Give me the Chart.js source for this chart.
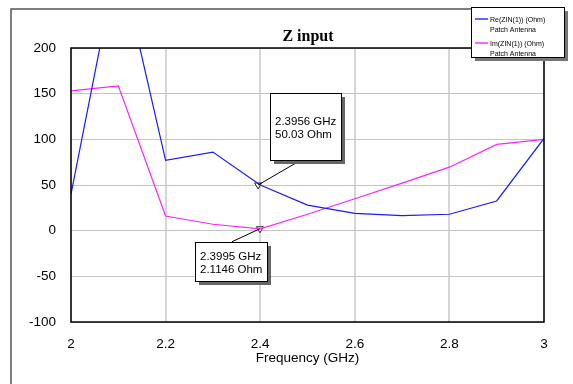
<!DOCTYPE html>
<html>
<head>
<meta charset="utf-8">
<script src="https://cdn.jsdelivr.net/npm/chart.js@4.4.0/dist/chart.umd.min.js"></script>
<style>
  html, body { margin: 0; padding: 0; background: #fff; }
  #wrap { width: 573px; height: 384px; }
</style>
</head>
<body>
<div id="wrap"><canvas id="zChart" width="573" height="384"></canvas></div>
<script>
// frequency points (GHz)
const freqs = [2.0, 2.1, 2.2, 2.3, 2.4, 2.5, 2.6, 2.7, 2.8, 2.9, 3.0];
// Re(ZIN(1)) and Im(ZIN(1)) in Ohm
const reZin = [40, 303, 77, 86, 50, 28, 19, 16.5, 18, 32.5, 101];
const imZin = [153, 158.5, 16, 7, 2, 18, 35, 52, 69.5, 94.5, 100];
// marker readouts
const markerFreq = [2.3956, 2.3995];
const markerVal = [50.03, 2.1146];
const xTicks = [2, 2.2, 2.4, 2.6, 2.8, 3];
const yTicks = [-100, -50, 0, 50, 100, 150, 200];

const toXY = (xs, ys) => xs.map((x, i) => ({x: x, y: ys[i]}));

// frame, title, legend, marker boxes
const decor = {
  id: 'decor',
  afterDraw(chart) {
    const ctx = chart.ctx;
    const a = chart.chartArea;
    const xs = chart.scales.x, ys = chart.scales.y;
    ctx.save();

    // outer frame
    ctx.strokeStyle = '#555';
    ctx.lineWidth = 1.5;
    ctx.beginPath();
    ctx.moveTo(11, 384);
    ctx.lineTo(11, 9);
    ctx.lineTo(471, 9);
    ctx.stroke();

    // plot border
    ctx.strokeStyle = '#000';
    ctx.lineWidth = 1.5;
    ctx.strokeRect(a.left, a.top, a.right - a.left, a.bottom - a.top);

    // title
    ctx.fillStyle = '#000';
    ctx.font = 'bold 16px "Liberation Serif", "Times New Roman", serif';
    ctx.textAlign = 'center';
    ctx.textBaseline = 'alphabetic';
    ctx.fillText('Z input', 308, 41);

    // legend box
    const lx = 471, ly = 7, lw = 93, lh = 50;
    ctx.fillStyle = '#777';
    ctx.fillRect(lx + 4, ly + 4, lw, lh);
    ctx.fillStyle = '#fff';
    ctx.fillRect(lx, ly, lw, lh);
    ctx.strokeStyle = '#000';
    ctx.lineWidth = 1;
    ctx.strokeRect(lx + 0.5, ly + 0.5, lw, lh);
    const entries = [
      {c: '#0000ff', t: 'Re(ZIN(1)) (Ohm)', y: 19},
      {c: '#ff00ff', t: 'Im(ZIN(1)) (Ohm)', y: 43}
    ];
    ctx.font = '7px "Liberation Sans", Arial, sans-serif';
    ctx.textAlign = 'left';
    entries.forEach(e => {
      ctx.strokeStyle = e.c;
      ctx.lineWidth = 1.2;
      ctx.beginPath();
      ctx.moveTo(475, e.y);
      ctx.lineTo(488, e.y);
      ctx.stroke();
      ctx.fillStyle = '#000';
      ctx.fillText(e.t, 490, e.y + 3);
      ctx.fillText('Patch Antenna', 490, e.y + 13);
    });

    // marker readout boxes
    const boxes = [
      {dx: 12, dy: -92, w: 71, h: 67, lead: [43, -25], text: [markerFreq[0].toFixed(4) + ' GHz', markerVal[0].toFixed(2) + ' Ohm']},
      {dx: -65, dy: 13, w: 72, h: 39, lead: [-28, 13], text: [markerFreq[1].toFixed(4) + ' GHz', markerVal[1].toFixed(4) + ' Ohm']}
    ];
    boxes.forEach((b, i) => {
      const px = xs.getPixelForValue(markerFreq[i]);
      const py = ys.getPixelForValue(markerVal[i]);
      const bx = Math.round(px + b.dx), by = Math.round(py + b.dy);
      ctx.strokeStyle = '#000';
      ctx.lineWidth = 1;
      ctx.beginPath();
      ctx.moveTo(px + b.lead[0], py + b.lead[1]);
      ctx.lineTo(px, py);
      ctx.stroke();
      ctx.fillStyle = '#666';
      ctx.fillRect(bx + 4, by + 4, b.w, b.h);
      ctx.fillStyle = '#fff';
      ctx.fillRect(bx, by, b.w, b.h);
      ctx.strokeStyle = '#000';
      ctx.strokeRect(bx + 0.5, by + 0.5, b.w, b.h);
      ctx.fillStyle = '#000';
      ctx.font = '11.5px "Liberation Sans", Arial, sans-serif';
      ctx.textAlign = 'left';
      const cy = by + b.h / 2;
      ctx.fillText(b.text[0], bx + 5, cy - 2);
      ctx.fillText(b.text[1], bx + 5, cy + 11);
    });

    ctx.restore();
  }
};

const tickFont = {family: '"Liberation Sans", Arial, sans-serif', size: 13.5};

new Chart(document.getElementById('zChart'), {
  type: 'line',
  data: {
    datasets: [
      {
        label: 'Re(ZIN(1)) (Ohm)',
        data: toXY(freqs, reZin),
        borderColor: '#1a1aff',
        borderWidth: 1.2,
        pointRadius: 0,
        tension: 0
      },
      {
        label: 'Im(ZIN(1)) (Ohm)',
        data: toXY(freqs, imZin),
        borderColor: '#ff22ff',
        borderWidth: 1.2,
        pointRadius: 0,
        tension: 0
      },
      {
        label: 'markers',
        data: toXY(markerFreq, markerVal),
        showLine: false,
        pointStyle: 'triangle',
        rotation: 180,
        pointRadius: 4,
        pointBorderWidth: 1,
        pointBorderColor: '#222',
        pointBackgroundColor: '#fff'
      }
    ]
  },
  options: {
    responsive: false,
    animation: false,
    layout: {padding: {left: 0, right: 29, top: 48, bottom: 14}},
    plugins: {
      legend: {display: false},
      title: {display: false},
      tooltip: {enabled: false}
    },
    scales: {
      x: {
        type: 'linear',
        min: 2,
        max: 3,
        afterBuildTicks: s => { s.ticks = xTicks.map(v => ({value: v})); },
        afterFit: s => { s.height = 48; },
        grid: {color: '#d6d6d6', lineWidth: 2, drawTicks: false},
        border: {display: false},
        ticks: {color: '#000', font: tickFont, padding: 14, maxRotation: 0, callback: v => String(v)},
        title: {display: true, text: 'Frequency (GHz)', color: '#000', font: tickFont, padding: {top: 0}}
      },
      y: {
        min: -100,
        max: 200,
        afterBuildTicks: s => { s.ticks = yTicks.map(v => ({value: v})); },
        afterFit: s => { s.width = 71; },
        grid: {color: '#c4c4c4', lineWidth: 1, drawTicks: false},
        border: {display: false},
        ticks: {color: '#000', font: tickFont, padding: 15}
      }
    }
  },
  plugins: [decor]
});
</script>
</body>
</html>
